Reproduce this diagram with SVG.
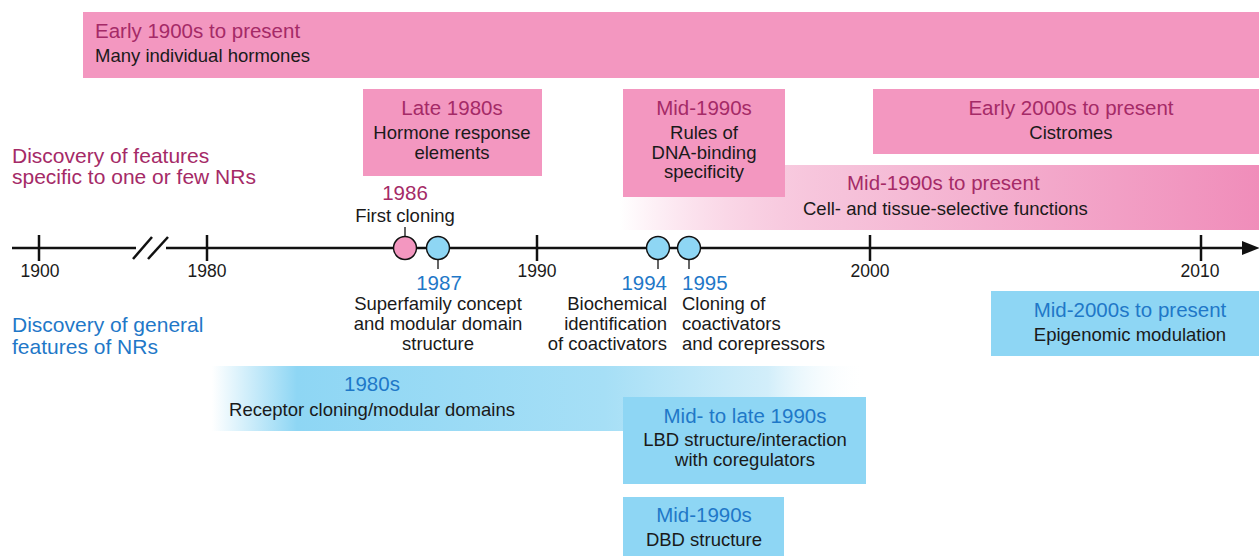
<svg xmlns="http://www.w3.org/2000/svg" width="1259" height="556" viewBox="0 0 1259 556">
<defs>
<style>
text{font-family:"Liberation Sans",Arial,sans-serif}
.h{font-size:20.5px}
.b{font-size:18.5px;fill:#1a1a1a}
.pk{fill:#a52a67}
.bl{fill:#1f78c8}
.side{font-size:21px}
.pbox{fill:#f397c0}
.bbox{fill:#8ed6f4}
.ax{stroke:#111;stroke-width:2.5;fill:none}
.stub{stroke:#111;stroke-width:1.3}
.yr{font-size:17.5px;fill:#1a1a1a}
.c{text-anchor:middle}
.r{text-anchor:end}
</style>
<linearGradient id="gPink" x1="620" y1="0" x2="1259" y2="0" gradientUnits="userSpaceOnUse">
<stop offset="0" stop-color="#f397c0" stop-opacity="0"/>
<stop offset="0.35" stop-color="#f6c2da"/>
<stop offset="1" stop-color="#f08dba"/>
</linearGradient>
<linearGradient id="gBlue" x1="212" y1="0" x2="866" y2="0" gradientUnits="userSpaceOnUse">
<stop offset="0" stop-color="#8ed6f4" stop-opacity="0"/>
<stop offset="0.13" stop-color="#8ed6f4"/>
<stop offset="0.6" stop-color="#a6dff6"/>
<stop offset="0.85" stop-color="#d2eefa"/>
<stop offset="1" stop-color="#ffffff" stop-opacity="0"/>
</linearGradient>
<marker id="arr" viewBox="0 0 10 10" refX="0" refY="5" markerWidth="7" markerHeight="7" markerUnits="strokeWidth" orient="auto">
<path d="M0,1 L10,5 L0,9 z" fill="#111"/>
</marker>
</defs>
<rect width="1259" height="556" fill="#fff"/>

<g id="side-labels">
<text class="side pk" x="12" y="163">Discovery of features</text>
<text class="side pk" x="12" y="184">specific to one or few NRs</text>
<text class="side bl" x="12" y="332">Discovery of general</text>
<text class="side bl" x="12" y="354">features of NRs</text>
</g>

<g id="early1900s">
<rect class="pbox" x="83" y="12" width="1176" height="66"/>
<text class="h pk" x="95" y="38">Early 1900s to present</text>
<text class="b" x="95" y="62">Many individual hormones</text>
</g>

<g id="late1980s">
<rect class="pbox" x="363" y="89" width="179" height="87"/>
<text class="h pk c" x="452" y="115">Late 1980s</text>
<text class="b c" x="452" y="139">Hormone response</text>
<text class="b c" x="452" y="159">elements</text>
</g>

<g id="mid1990s-present">
<rect x="620" y="165" width="639" height="65" fill="url(#gPink)"/>
<text class="h pk" x="847" y="190">Mid-1990s to present</text>
<text class="b" x="803" y="215">Cell- and tissue-selective functions</text>
</g>

<g id="mid1990s-pink">
<rect class="pbox" x="623" y="89" width="162" height="108"/>
<text class="h pk c" x="704" y="115">Mid-1990s</text>
<text class="b c" x="704" y="139">Rules of</text>
<text class="b c" x="704" y="159">DNA-binding</text>
<text class="b c" x="704" y="178">specificity</text>
</g>

<g id="early2000s">
<rect class="pbox" x="873" y="89" width="386" height="65"/>
<text class="h pk c" x="1071" y="115">Early 2000s to present</text>
<text class="b c" x="1071" y="139">Cistromes</text>
</g>

<g id="mid2000s">
<rect class="bbox" x="991" y="291" width="268" height="65"/>
<text class="h bl c" x="1130" y="317">Mid-2000s to present</text>
<text class="b c" x="1130" y="341">Epigenomic modulation</text>
</g>

<g id="b1980s">
<rect x="212" y="366" width="654" height="65" fill="url(#gBlue)"/>
<text class="h bl c" x="372" y="391">1980s</text>
<text class="b c" x="372" y="416">Receptor cloning/modular domains</text>
</g>

<g id="midlate1990s">
<rect class="bbox" x="623" y="397" width="243" height="87"/>
<text class="h bl c" x="745" y="423">Mid- to late 1990s</text>
<text class="b c" x="745" y="446">LBD structure/interaction</text>
<text class="b c" x="745" y="466">with coregulators</text>
</g>

<g id="dbd">
<rect class="bbox" x="623" y="497" width="161" height="59"/>
<text class="h bl c" x="704" y="522">Mid-1990s</text>
<text class="b c" x="704" y="546">DBD structure</text>
</g>

<g id="connectors">
<line class="ax" x1="12" y1="248" x2="1242" y2="248" marker-end="url(#arr)"/>
<line class="ax" x1="39" y1="235" x2="39" y2="261"/>
<line class="ax" x1="207" y1="235" x2="207" y2="261"/>
<line class="ax" x1="537" y1="235" x2="537" y2="261"/>
<line class="ax" x1="870" y1="235" x2="870" y2="261"/>
<line class="ax" x1="1201" y1="235" x2="1201" y2="261"/>
<rect x="136" y="238" width="30" height="20" fill="#fff"/>
<line class="ax" x1="133" y1="259" x2="152" y2="237"/>
<line class="ax" x1="148" y1="259" x2="168" y2="237"/>
<line class="stub" x1="405" y1="227" x2="405" y2="237"/>
<line class="stub" x1="438" y1="259" x2="438" y2="269"/>
<line class="stub" x1="658" y1="259" x2="658" y2="269"/>
<line class="stub" x1="689" y1="259" x2="689" y2="269"/>
</g>

<g id="axis-labels">
<text class="yr c" x="40" y="277">1900</text>
<text class="yr c" x="207" y="277">1980</text>
<text class="yr c" x="537" y="277">1990</text>
<text class="yr c" x="870" y="277">2000</text>
<text class="yr c" x="1200" y="277">2010</text>
</g>

<g id="e1986">
<circle cx="405" cy="248" r="11.5" fill="#f397c0" stroke="#111" stroke-width="1.5"/>
<text class="h pk c" x="405" y="200">1986</text>
<text class="b c" x="405" y="222">First cloning</text>
</g>

<g id="e1987">
<circle cx="438" cy="248" r="11.5" fill="#8ed6f4" stroke="#111" stroke-width="1.5"/>
<text class="h bl c" x="439" y="290">1987</text>
<text class="b c" x="438" y="310">Superfamily concept</text>
<text class="b c" x="438" y="330">and modular domain</text>
<text class="b c" x="438" y="350">structure</text>
</g>

<g id="e1994">
<circle cx="658" cy="248" r="11.5" fill="#8ed6f4" stroke="#111" stroke-width="1.5"/>
<text class="h bl r" x="667" y="290">1994</text>
<text class="b r" x="667" y="310">Biochemical</text>
<text class="b r" x="667" y="330">identification</text>
<text class="b r" x="667" y="350">of coactivators</text>
</g>

<g id="e1995">
<circle cx="689" cy="248" r="11.5" fill="#8ed6f4" stroke="#111" stroke-width="1.5"/>
<text class="h bl" x="682" y="290">1995</text>
<text class="b" x="682" y="310">Cloning of</text>
<text class="b" x="682" y="330">coactivators</text>
<text class="b" x="682" y="350">and corepressors</text>
</g>
</svg>
